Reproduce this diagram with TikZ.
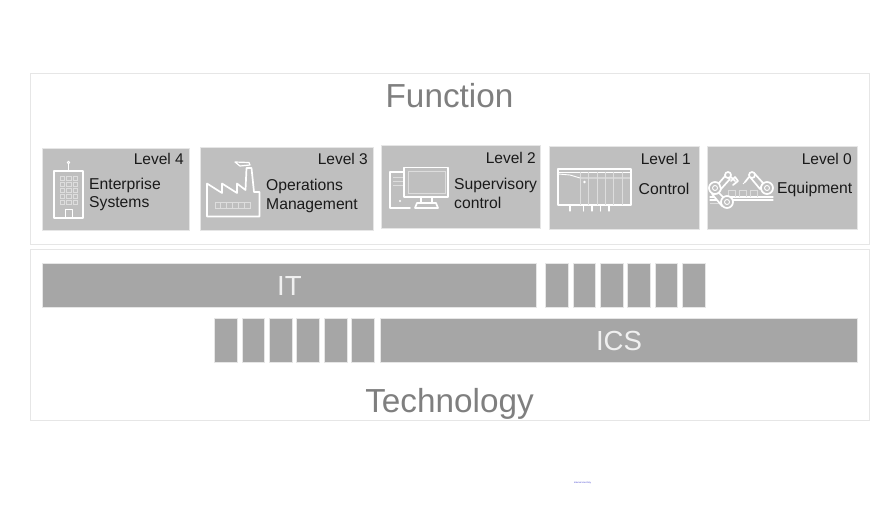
\documentclass[tikz,border=0pt]{standalone}
\usepackage{fontspec}
\setmainfont{Liberation Sans}
\definecolor{panelline}{HTML}{E6E6E6}
\definecolor{lvlbox}{HTML}{BFBFBF}
\definecolor{barbox}{HTML}{A6A6A6}
\definecolor{bigtxt}{HTML}{7F7F7F}
\definecolor{lvltxt}{HTML}{1A1A1A}
\definecolor{softw}{HTML}{DDDDDD}
\tikzset{
  x=1pt,y=-1pt,
  panel/.style={draw=panelline,line width=0.8pt,fill=white},
  lvl/.style={fill=lvlbox,draw=panelline,line width=0.5pt},
  barb/.style={fill=barbox,draw=panelline,line width=0.5pt},
  icon/.style={draw=white,line width=1.7pt,line join=round,line cap=round},
  iconthin/.style={draw=white,line width=0.9pt,line join=round},
  iconsoft/.style={draw=softw,line width=0.8pt},
  bigt/.style={text=bigtxt,font=\fontsize{33.3}{36}\selectfont,inner sep=0pt},
  lvlt/.style={text=lvltxt,font=\fontsize{15.5}{18}\selectfont,inner sep=0pt,anchor=east},
  dsc/.style={text=lvltxt,font=\fontsize{15.7}{18.5}\selectfont,inner sep=0pt,anchor=west,align=left},
  bart/.style={text=white!94!black,font=\fontsize{27.6}{30}\selectfont,inner sep=0pt},
}
\begin{document}
\begin{tikzpicture}
\useasboundingbox (0,0) rectangle (885,504);
\fill[white] (0,0) rectangle (885,504);
% panels
\draw[panel] (30,73) rectangle (869,244);
\draw[panel] (30,249) rectangle (869,420);
\node[bigt] (fn) at (449.5,95.5) {Function};
\node[bigt] (tech) at (449.5,404) {Technology};
% level boxes
\draw[lvl] (42.3,148) rectangle (189.6,230.6);
\draw[lvl] (199.8,147) rectangle (373.6,230.6);
\draw[lvl] (380.8,145) rectangle (540.6,228.6);
\draw[lvl] (548.8,146) rectangle (699.6,229.6);
\draw[lvl] (707.3,146) rectangle (857,229.6);
\node[lvlt] (l4) at (184,158.5) {Level 4};
\node[lvlt] (l3) at (368,159) {Level 3};
\node[lvlt] (l2) at (536,157.5) {Level 2};
\node[lvlt] (l1) at (691,158.5) {Level 1};
\node[lvlt] (l0) at (852,158.5) {Level 0};
\node[dsc] (d4) at (89,194.3) {Enterprise\\Systems};
\node[dsc] (d3) at (266,195.8) {Operations\\Management};
\node[dsc] (d2) at (454,193.3) {Supervisory\\control};
\node[dsc] (d1) at (638.5,189) {Control};
\node[dsc] (d0) at (777,189) {Equipment};
% building icon
\draw[icon] (54,171) rectangle (83,218);
\draw[iconthin] (68.5,170) -- (68.5,163);
\draw[iconthin] (68.5,162.5) circle (1.3);
\foreach \r in {0,...,4} \foreach \c in {0,1,2}
  \draw[iconsoft] ({60+\c*6.5},{176+\r*6.1}) rectangle ++(4.6,4.3);
\draw[iconthin] (65,218) -- (65,209) -- (72,209) -- (72,218);
% factory icon
\draw[icon] (207,183.5) -- (222,193) -- (222,183.5) -- (237,193) -- (237,183.5) -- (245.5,190)
  -- (246.5,168) -- (251.5,168) -- (254,192) -- (259.5,192) -- (259.5,216.5) -- (207,216.5) -- cycle;
\draw[iconthin,line width=1.2pt] (235,162) -- (249,162.5) -- (250,165) -- (240,166) -- cycle;
\draw[iconsoft,line width=1pt] (215,202) rectangle (250,208.5);
\foreach \k in {1,...,5} \draw[iconsoft] ({215+\k*5.8},202) -- ({215+\k*5.8},208.5);
% computer icon
\draw[icon] (404,172) -- (390,172) -- (390,208) -- (410,208);
\draw[iconsoft] (393,177) -- (403,177) (393,181) -- (403,181) (393,185) -- (403,185);
\fill[white] (400,201) circle (1.2);
\draw[icon] (404,167.5) rectangle (448,197);
\draw[iconsoft,line width=1pt] (408,171) rectangle (445,193);
\draw[icon] (421,197) -- (421,203) (432,197) -- (432,203);
\draw[icon] (415,208) -- (417,203) -- (436,203) -- (438,208) -- cycle;
% PLC icon
\draw[icon] (558,169) rectangle (631,205);
\draw[iconthin] (558,172) -- (631,172);
\draw[iconthin] (558,174) -- (570,175) -- (580,178) -- (631,178);
\foreach \px in {580,588.5,597,605,613.5,622} \draw[iconsoft] (\px,172) -- (\px,205);
\fill[white] (584.5,182) circle (1.4);
\foreach \px in {570,583.5,592,600.5,609}
  \draw[icon,line width=1.2pt] (\px,205) -- (\px,211);
% robot icon
\draw[icon,line width=1.1pt] (710,197) -- (773,197) (710,200) -- (773,200);
\draw[iconsoft] (710,203) -- (727,203);
\foreach \bx in {728,739,750} \draw[iconsoft] (\bx,197) -- (\bx,190) -- (\bx+7,190) -- (\bx+7,197);
\draw[icon,fill=lvlbox] (719,193) -- (723,197) -- (730,204) -- (722,206) -- (712,194) -- cycle;
\draw[icon,fill=lvlbox] (715,188) circle (6);
\draw[iconthin] (715,188) circle (2.5);
\draw[icon,fill=lvlbox] (727,202) circle (6);
\draw[iconthin] (727,202) circle (2.5);
\draw[icon,fill=lvlbox] (719,183) -- (726,175) -- (730,179) -- (721,189) -- cycle;
\draw[icon,fill=lvlbox] (728,175) circle (3);
\draw[icon] (731,177) -- (735,181) (733,185) -- (738,181) -- (735,177) -- (731,181);
\draw[icon,fill=lvlbox] (763,183) -- (754,173) -- (750,177) -- (760,189) -- cycle;
\draw[icon,fill=lvlbox] (767,188) circle (6);
\draw[iconthin] (767,188) circle (2.5);
\draw[icon,fill=lvlbox] (752,175) circle (3);
\draw[icon] (749,177) -- (745,182);
\draw[iconthin] (745,182) -- (743,184);
% bars
\draw[barb] (42.3,263.3) rectangle (536.6,307);
\foreach \a/\b in {545.7/568.6,573.7/595.6,600.7/623.6,627.7/650.6,655.7/677.6,682.7/705.6}
  \draw[barb] (\a,263.3) rectangle (\b,307);
\foreach \a/\b in {214.7/237.6,242.7/264.6,269.7/292.6,296.7/319.6,324.7/347.6,351.7/374.6}
  \draw[barb] (\a,318.3) rectangle (\b,362);
\draw[barb] (380.7,318.3) rectangle (857,362);
\node[bart] (it) at (289.5,286) {IT};
\node[bart] (ics) at (619,341) {ICS};
\node[inner sep=0pt,text=blue!60!gray,font=\fontsize{2.2}{3}\selectfont] (foot) at (582.5,482.5) {Internal Use Only};
\end{tikzpicture}
\end{document}
